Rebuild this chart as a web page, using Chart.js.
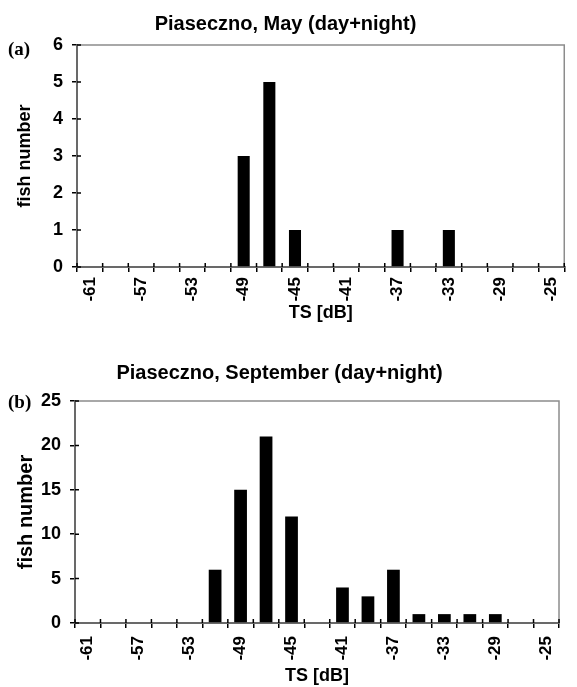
<!DOCTYPE html>
<html>
<head>
<meta charset="utf-8">
<script src="https://cdn.jsdelivr.net/npm/chart.js@4.4.0/dist/chart.umd.min.js"></script>
<style>
  body { margin: 0; background: #fff; }
  #wrap { position: relative; width: 577px; height: 687px; }
  .panel { position: absolute; left: 0; width: 577px; }
  .tag { position: absolute; left: 8px; font: bold 19px "Liberation Serif", "Times New Roman", serif; }
</style>
</head>
<body>
<div id="wrap">
  <div class="panel" style="top:0;height:330px"><canvas id="chartMay" width="577" height="330"></canvas></div>
  <div class="panel" style="top:330px;height:357px"><canvas id="chartSep" width="577" height="357"></canvas></div>
  <div class="tag" style="top:38px">(a)</div>
  <div class="tag" style="top:391px">(b)</div>
</div>
<script>
// TS classes [dB]
var tsClasses = ['-61', '-59', '-57', '-55', '-53', '-51', '-49', '-47', '-45', '-43',
                 '-41', '-39', '-37', '-35', '-33', '-31', '-29', '-27', '-25'];
// fish counts per class
var mayCounts = [0, 0, 0, 0, 0, 0, 3, 5, 1, 0, 0, 0, 1, 0, 1, 0, 0, 0, 0];
var sepCounts = [0, 0, 0, 0, 0, 6, 15, 21, 12, 0, 4, 3, 6, 1, 1, 1, 1, 0, 0];
var mayTitle = 'Piaseczno, May (day+night)';
var sepTitle = 'Piaseczno, September (day+night)';

var FONT = '"Liberation Sans", Arial, sans-serif';

// grey frame on top/right like the Excel plot area
var frame = {
  id: 'frame',
  beforeDatasetsDraw: function(chart) {
    var a = chart.chartArea, ctx = chart.ctx;
    ctx.save();
    ctx.strokeStyle = '#8c8c8c';
    ctx.lineWidth = 1.5;
    ctx.strokeRect(a.left, a.top, a.right - a.left, a.bottom - a.top);
    ctx.restore();
  }
};

// tick marks that cross the axis line (inner part)
var crossTicks = {
  id: 'crossTicks',
  afterDraw: function(chart) {
    var ctx = chart.ctx, x = chart.scales.x, y = chart.scales.y;
    var a = chart.chartArea;
    ctx.save();
    ctx.strokeStyle = '#000';
    ctx.lineWidth = 1.5;
    ctx.beginPath();
    y.ticks.forEach(function(t, i) {
      var py = y.getPixelForTick(i);
      ctx.moveTo(a.left, py);
      ctx.lineTo(a.left + 4, py);
    });
    var half = (x.getPixelForTick(1) - x.getPixelForTick(0)) / 2;
    for (var i = 0; i <= tsClasses.length; i++) {
      var px = x.getPixelForTick(Math.min(i, tsClasses.length - 1)) + (i === tsClasses.length ? half : -half);
      ctx.moveTo(px, a.bottom);
      ctx.lineTo(px, a.bottom - 4);
    }
    ctx.stroke();
    ctx.restore();
  }
};

function makeChart(id, counts, title, o) {
  var ctx = document.getElementById(id).getContext('2d');
  return new Chart(ctx, {
    type: 'bar',
    data: {
      labels: tsClasses,
      datasets: [{
        data: counts,
        backgroundColor: '#000',
        borderWidth: 0,
        categoryPercentage: 1,
        barPercentage: o.barPct
      }]
    },
    plugins: [frame, crossTicks],
    options: {
      responsive: false,
      animation: false,
      layout: { padding: { left: 0, right: o.padRight, top: 0, bottom: o.padBottom } },
      plugins: {
        legend: { display: false },
        tooltip: { enabled: false },
        title: {
          display: true,
          text: title,
          color: '#000',
          font: { family: FONT, size: 20, weight: 'bold' },
          padding: { top: o.titleTop, bottom: o.titleBottom }
        }
      },
      scales: {
        x: {
          afterFit: function(s) { s.height = o.xHeight; },
          grid: { drawOnChartArea: false, offset: true, color: '#000', lineWidth: 1.5, tickLength: 5 },
          border: { color: '#000', width: 2 },
          ticks: {
            autoSkip: false,
            minRotation: 90,
            maxRotation: 90,
            padding: o.xPad,
            color: '#000',
            font: { family: FONT, size: 17, weight: 'bold' },
            callback: function(v, i) { return i % 2 === 0 ? tsClasses[i] : ''; }
          },
          title: {
            display: true,
            text: 'TS [dB]',
            color: '#000',
            font: { family: FONT, size: 18, weight: 'bold' },
            padding: 0
          }
        },
        y: {
          min: 0,
          max: o.yMax,
          afterFit: function(s) { s.width = o.yWidth; },
          grid: { drawOnChartArea: false, color: '#000', lineWidth: 1.5, tickLength: 5 },
          border: { color: '#000', width: 2 },
          ticks: {
            stepSize: o.yStep,
            padding: 9,
            color: '#000',
            font: { family: FONT, size: 18, weight: 'bold' }
          },
          title: {
            display: true,
            text: 'fish number',
            color: '#000',
            font: { family: FONT, size: o.yTitleSize, weight: 'bold' },
            padding: { top: 14, bottom: 0 }
          }
        }
      }
    }
  });
}

makeChart('chartMay', mayCounts, mayTitle, {
  barPct: 0.47, padRight: 6, padBottom: 6, titleTop: 12, titleBottom: 9,
  xHeight: 57, xPad: 5, yWidth: 77, yMax: 6, yStep: 1, yTitleSize: 18
});
makeChart('chartSep', sepCounts, sepTitle, {
  barPct: 0.5, padRight: 18, padBottom: 0, titleTop: 31, titleBottom: 16,
  xHeight: 64, xPad: 8, yWidth: 75, yMax: 25, yStep: 5, yTitleSize: 20
});
</script>
</body>
</html>
